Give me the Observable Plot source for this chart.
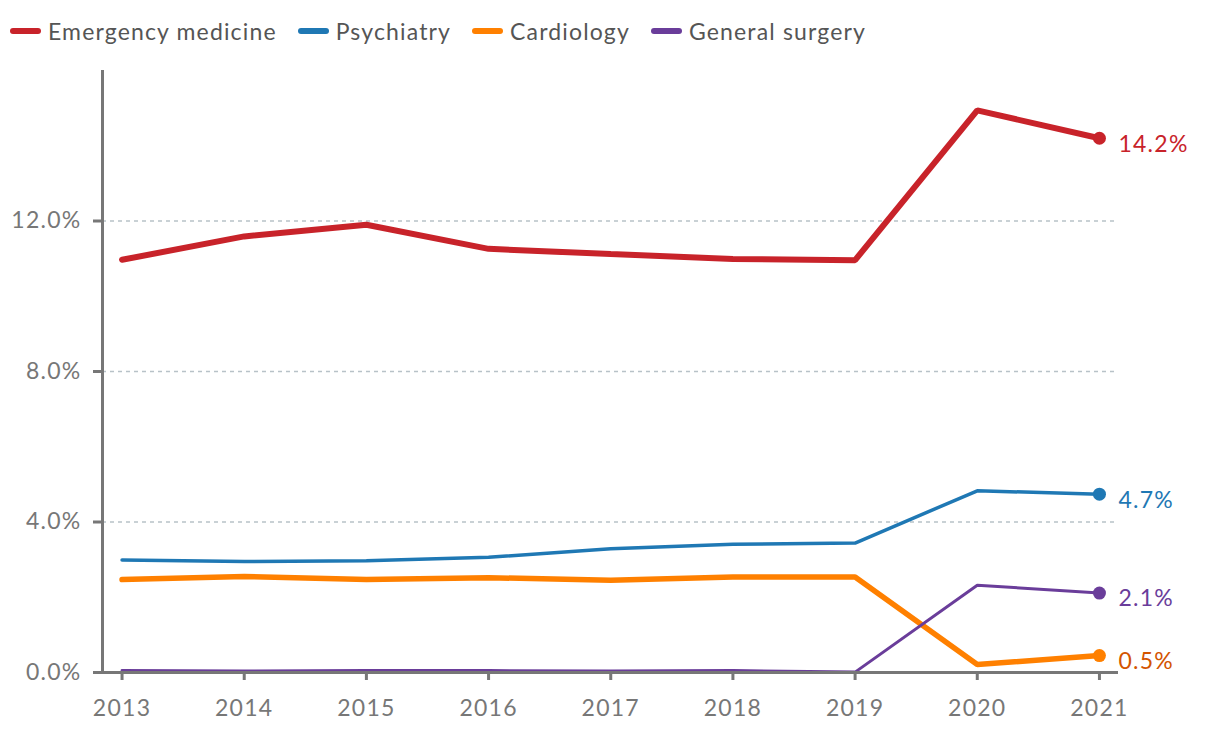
<!DOCTYPE html>
<html><head><meta charset="utf-8">
<script src="https://cdn.jsdelivr.net/npm/d3@7"></script>
<script src="https://cdn.jsdelivr.net/npm/@observablehq/plot@0.6"></script>
<style>
body{margin:0;background:#fff;font-family:Lato,sans-serif;}
#legend{height:60px;display:flex;align-items:center;padding-left:10px;box-sizing:border-box;padding-top:1px}
.item{display:flex;align-items:center;margin-right:21px;font-size:23px;letter-spacing:1.15px;color:#555}
.sw{width:31px;height:6px;border-radius:3px;margin-right:7px}
svg text{letter-spacing:1.25px}
</style></head><body>
<div id="legend"></div><div id="chart"></div>
<script>
const years = [2013, 2014, 2015, 2016, 2017, 2018, 2019, 2020, 2021];
const seriesNames = ["Emergency medicine", "Psychiatry", "Cardiology", "General surgery"];
const emergency = [10.97, 11.59, 11.90, 11.26, 11.12, 10.99, 10.96, 14.94, 14.2];
const psychiatry = [2.99, 2.95, 2.97, 3.06, 3.29, 3.41, 3.44, 4.83, 4.74];
const cardiology = [2.47, 2.55, 2.47, 2.52, 2.45, 2.54, 2.54, 0.21, 0.45];
const surgery = [0.05, 0.04, 0.05, 0.05, 0.04, 0.05, 0.01, 2.32, 2.11];
const endLabels = ["14.2%", "4.7%", "0.5%", "2.1%"];
const yTicks = [0, 4, 8, 12];
const colors = ["#c8232a", "#1f78b4", "#ff8000", "#6a3d9a"];
const labelColors = ["#c8232a", "#1f78b4", "#d35400", "#6a3d9a"];
const widths = [6, 3.5, 5.5, 3];

const allValues = [emergency, psychiatry, cardiology, surgery];
const rows = [];
allValues.forEach((vals, i) => vals.forEach((v, j) => rows.push({series: seriesNames[i], year: years[j], value: v, idx: i})));
const last = allValues.map((vals, i) => ({series: seriesNames[i], year: years[years.length - 1], value: vals[vals.length - 1], label: endLabels[i], idx: i}));

// legend
const lg = document.getElementById("legend");
seriesNames.forEach((n, i) => {
  const it = document.createElement("div"); it.className = "item";
  const sw = document.createElement("span"); sw.className = "sw"; sw.style.background = colors[i];
  it.appendChild(sw); it.appendChild(document.createTextNode(n)); lg.appendChild(it);
});

const x0 = 2012.84, xEnd = 2021.156, xAxisStart = 2012.779;
const drawOrder = [2, 3, 1, 0];
const marks = [
  Plot.ruleY(yTicks.slice(1), {x1: x0, x2: 2021.13, stroke: "#b8c2c8", strokeWidth: 1.5, strokeDasharray: "4,4"}),
];
drawOrder.forEach(i => {
  marks.push(Plot.line(rows.filter(r => r.idx === i), {x: "year", y: "value", stroke: colors[i], strokeWidth: widths[i], strokeLinecap: "round", strokeLinejoin: "miter"}));
});
drawOrder.forEach(i => {
  marks.push(Plot.dot([last[i]], {x: "year", y: "value", r: 6.5, fill: colors[i], stroke: "none"}));
  marks.push(Plot.text([last[i]], {x: "year", y: "value", text: "label", dx: 19, dy: 6, textAnchor: "start", fill: labelColors[i], fontSize: 23}));
});
marks.push(Plot.ruleY([0], {x1: xAxisStart, x2: xEnd, stroke: "#777", strokeWidth: 3}));
marks.push(Plot.ruleX([x0], {y1: 0, y2: 16, stroke: "#777", strokeWidth: 3}));
marks.push(Plot.axisX({ticks: years, tickFormat: d => String(d), tickSize: 8, tickPadding: 19, stroke: "#777", strokeWidth: 3, color: "#777", fontSize: 23, label: null}));
marks.push(Plot.axisY({ticks: yTicks, tickFormat: d => d.toFixed(1) + "%", tickSize: 9, tickPadding: 12, stroke: "#777", strokeWidth: 3, color: "#777", fontSize: 23, label: null}));

const chart = Plot.plot({
  width: 1220, height: 672,
  marginTop: 10, marginBottom: 60, marginLeft: 102, marginRight: 102,
  style: {fontFamily: "Lato, sans-serif", background: "#fff", overflow: "visible"},
  x: {type: "linear", domain: [x0, xEnd]},
  y: {domain: [0, 16]},
  marks
});
document.getElementById("chart").appendChild(chart);
</script>
</body></html>
